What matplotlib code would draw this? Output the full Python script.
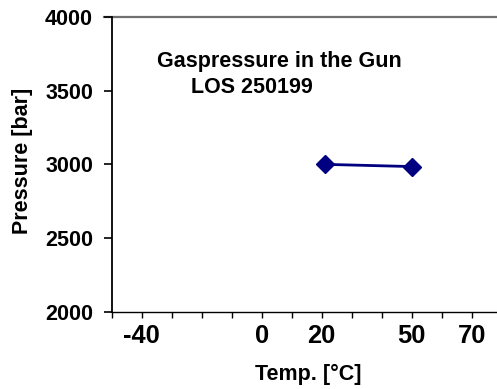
import matplotlib.pyplot as plt

plt.rcParams['font.family'] = ['Liberation Sans', 'DejaVu Sans']
plt.rcParams['font.weight'] = 'bold'

# data
temp = [21, 50]
pressure = [3000, 2985]

x_labelled = [-40, 0, 20, 50, 70]
x_minor = [-50, -30, -20, -10, 10, 30, 40, 60]
y_ticks = [2000, 2500, 3000, 3500, 4000]

fig = plt.figure(figsize=(4.97, 3.89), dpi=100)
ax = fig.add_axes([0.2248, 0.1987, 0.7847, 0.7576])

ax.plot(temp, pressure, color='#000080', linewidth=2.0, marker='D',
        markersize=9.5, clip_on=False, zorder=3)

ax.set_xlim(-50, 80)
ax.set_ylim(2000, 4000)

ax.set_xticks(x_labelled)
ax.set_xticks(x_minor, minor=True)
ax.set_xticklabels([str(v) for v in x_labelled], fontsize=18.4, fontweight='bold')
ax.tick_params(axis='x', which='both', direction='out', length=4, width=1,
               color='black', pad=4.6)

ax.set_yticks(y_ticks)
ax.set_yticklabels([str(v) for v in y_ticks], fontsize=15.5, fontweight='bold')
ax.tick_params(axis='y', direction='out', length=5.5, width=1.2, color='black', pad=7.9)

ax.spines['top'].set_visible(False)
ax.spines['right'].set_visible(False)
ax.spines['left'].set_linewidth(1.3)
ax.spines['bottom'].set_linewidth(1.0)

# gray line along the top of the plot area
ax.plot([-52.6, 80], [4000, 4000], color='#707070', linewidth=1.6,
        clip_on=False, zorder=1)

fig.text(279 / 497, 1 - 67 / 389, 'Gaspressure in the Gun', fontsize=15.5,
         fontweight='bold', ha='center', va='baseline')
fig.text(251.5 / 497, 1 - 93 / 389, 'LOS 250199', fontsize=15.5,
         fontweight='bold', ha='center', va='baseline')

fig.text(308 / 497, 1 - 374 / 389, 'Temp. [°C]', fontsize=15.5,
         fontweight='bold', ha='center', va='center')
fig.text(23 / 497, 1 - 161 / 389, 'Pressure [bar]', fontsize=15.5,
         fontweight='bold', ha='center', va='center', rotation=90)

fig.savefig('out.png', dpi=100)
